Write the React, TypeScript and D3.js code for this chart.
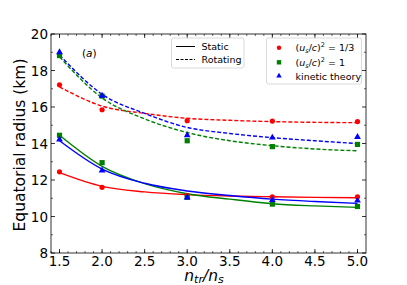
import React from 'react';
import * as d3 from 'd3';

// measured points
const nRatio = [1.5, 2.0, 3.0, 4.0, 5.0];
const staticSoft = [12.45, 11.6, 11.15, 11.08, 11.08];
const staticStiff = [14.45, 12.95, 11.05, 10.68, 10.55];
const staticKinetic = [14.22, 12.52, 11.04, 10.9, 10.87];
const rotSoft = [17.22, 15.85, 15.25, 15.23, 15.2];
const rotStiff = [18.82, 16.6, 14.15, 13.83, 13.95];
const rotKinetic = [19.0, 16.62, 14.45, 14.32, 14.36];

// fitted curves
const fitN = [1.5, 2.0, 2.5, 3.0, 3.5, 4.0, 4.5, 5.0];
const fitStaticSoft = [12.4, 11.65, 11.35, 11.2, 11.12, 11.08, 11.05, 11.03];
const fitStaticStiff = [14.45, 12.75, 11.8, 11.25, 10.95, 10.7, 10.58, 10.5];
const fitStaticKinetic = [14.15, 12.6, 11.82, 11.4, 11.15, 10.95, 10.82, 10.72];
const fitRotSoft = [17.1, 16.05, 15.65, 15.38, 15.27, 15.2, 15.16, 15.14];
const fitRotStiff = [18.75, 16.5, 15.35, 14.6, 14.15, 13.88, 13.7, 13.6];
const fitRotKinetic = [18.85, 16.7, 15.65, 14.88, 14.55, 14.32, 14.15, 14.0];

const xTicks = [1.5, 2.0, 2.5, 3.0, 3.5, 4.0, 4.5, 5.0];
const yTicks = [8, 10, 12, 14, 16, 18, 20];

const font = 'DejaVu Sans, sans-serif';

export default function App() {
  const ref = React.useRef<SVGSVGElement>(null);

  React.useEffect(() => {
    const svg = d3.select(ref.current);
    svg.selectAll('*').remove();

    const left = 51, right = 366, top = 34, bottom = 253;
    const x = d3.scaleLinear().domain([1.4, 5.1]).range([left, right]);
    const y = d3.scaleLinear().domain([8, 20]).range([bottom, top]);

    const g = svg.append('g');

    // frame
    g.append('rect')
      .attr('x', left).attr('y', top)
      .attr('width', right - left).attr('height', bottom - top)
      .attr('fill', 'none').attr('stroke', '#000').attr('stroke-width', 0.8);

    // ticks (inward, all sides)
    const minorX = d3.range(14, 51).map(v => v / 10);
    minorX.forEach(v => {
      const px = x(v);
      g.append('line').attr('x1', px).attr('x2', px).attr('y1', bottom).attr('y2', bottom - 2)
        .attr('stroke', '#000').attr('stroke-width', 0.6);
      g.append('line').attr('x1', px).attr('x2', px).attr('y1', top).attr('y2', top + 2)
        .attr('stroke', '#000').attr('stroke-width', 0.6);
    });
    xTicks.forEach(v => {
      const px = x(v);
      g.append('line').attr('x1', px).attr('x2', px).attr('y1', bottom).attr('y2', bottom - 4)
        .attr('stroke', '#000').attr('stroke-width', 0.8);
      g.append('line').attr('x1', px).attr('x2', px).attr('y1', top).attr('y2', top + 4)
        .attr('stroke', '#000').attr('stroke-width', 0.8);
      g.append('text').attr('x', px).attr('y', bottom + 12.5)
        .attr('text-anchor', 'middle').attr('font-family', font).attr('font-size', 13.5)
        .text(v.toFixed(1));
    });
    d3.range(9, 20, 2).forEach(v => {
      const py = y(v);
      g.append('line').attr('x1', left).attr('x2', left + 2).attr('y1', py).attr('y2', py)
        .attr('stroke', '#000').attr('stroke-width', 0.6);
      g.append('line').attr('x1', right).attr('x2', right - 2).attr('y1', py).attr('y2', py)
        .attr('stroke', '#000').attr('stroke-width', 0.6);
    });
    yTicks.forEach(v => {
      const py = y(v);
      g.append('line').attr('x1', left).attr('x2', left + 4).attr('y1', py).attr('y2', py)
        .attr('stroke', '#000').attr('stroke-width', 0.8);
      g.append('line').attr('x1', right).attr('x2', right - 4).attr('y1', py).attr('y2', py)
        .attr('stroke', '#000').attr('stroke-width', 0.8);
      g.append('text').attr('x', left - 3).attr('y', py + 5)
        .attr('text-anchor', 'end').attr('font-family', font).attr('font-size', 13.5)
        .text(String(v));
    });

    // axis labels
    g.append('text')
      .attr('transform', `translate(24.5,${(top + bottom) / 2 + 1.5}) rotate(-90)`)
      .attr('text-anchor', 'middle').attr('font-family', font).attr('font-size', 15.5)
      .text('Equatorial radius (km)');
    const xl = g.append('text').attr('x', 204).attr('y', 280.5)
      .attr('text-anchor', 'middle').attr('font-family', font).attr('font-size', 15.5)
      .attr('font-style', 'italic');
    xl.append('tspan').text('n');
    xl.append('tspan').attr('font-size', 11).attr('dy', 2.5).text('tr');
    xl.append('tspan').attr('dy', -2.5).text('/n');
    xl.append('tspan').attr('font-size', 11).attr('dy', 2.5).text('s');

    const pa = g.append('text').attr('x', 82).attr('y', 57).attr('font-family', font).attr('font-size', 10.5);
    pa.append('tspan').text('(');
    pa.append('tspan').attr('font-style', 'italic').text('a');
    pa.append('tspan').text(')');

    const line = d3.line<number>()
      .x((_, i) => x(fitN[i]))
      .y(d => y(d))
      .curve(d3.curveMonotoneX);

    const curves: [number[], string, boolean][] = [
      [fitRotSoft, '#ff0000', true],
      [fitRotStiff, '#008000', true],
      [fitRotKinetic, '#0000ff', true],
      [fitStaticSoft, '#ff0000', false],
      [fitStaticStiff, '#008000', false],
      [fitStaticKinetic, '#0000ff', false],
    ];
    curves.forEach(([vals, col, dashed]) => {
      g.append('path').attr('d', line(vals) as string)
        .attr('fill', 'none').attr('stroke', col).attr('stroke-width', 1.4)
        .attr('stroke-dasharray', dashed ? '4,2' : null);
    });

    const drawMarks = (vals: number[], col: string, shape: string) => {
      vals.forEach((v, i) => {
        const px = x(nRatio[i]), py = y(v);
        if (shape === 'circle') {
          g.append('circle').attr('cx', px).attr('cy', py).attr('r', 2.6).attr('fill', col);
        } else if (shape === 'square') {
          g.append('rect').attr('x', px - 2.6).attr('y', py - 2.6).attr('width', 5.2).attr('height', 5.2).attr('fill', col);
        } else {
          g.append('path').attr('d', d3.symbol(d3.symbolTriangle, 20)() as string)
            .attr('transform', `translate(${px},${py})`).attr('fill', col);
        }
      });
    };
    drawMarks(staticSoft, '#ff0000', 'circle');
    drawMarks(rotSoft, '#ff0000', 'circle');
    drawMarks(staticStiff, '#008000', 'square');
    drawMarks(rotStiff, '#008000', 'square');
    drawMarks(staticKinetic, '#0000ff', 'triangle');
    drawMarks(rotKinetic, '#0000ff', 'triangle');

    // legend: line styles
    g.append('rect').attr('x', 171.5).attr('y', 38).attr('width', 72.5).attr('height', 30)
      .attr('rx', 2).attr('fill', '#fff').attr('fill-opacity', 0.8).attr('stroke', '#d0d0d0').attr('stroke-width', 0.8);
    [['Static', null, 46.5], ['Rotating', '3,1.5', 59.5]].forEach(([lab, dash, yy]) => {
      g.append('line').attr('x1', 176).attr('x2', 195).attr('y1', yy as number).attr('y2', yy as number)
        .attr('stroke', '#000').attr('stroke-width', 1).attr('stroke-dasharray', dash as string | null);
      g.append('text').attr('x', 201.5).attr('y', (yy as number) + 3.5)
        .attr('font-family', font).attr('font-size', 9.5).text(lab as string);
    });

    // legend: models
    g.append('rect').attr('x', 266.5).attr('y', 38).attr('width', 95).attr('height', 46)
      .attr('rx', 2).attr('fill', '#fff').attr('fill-opacity', 0.8).attr('stroke', '#d0d0d0').attr('stroke-width', 0.8);
    const lx = 279, tx = 295.5;
    g.append('circle').attr('cx', lx).attr('cy', 47.7).attr('r', 2.2).attr('fill', '#ff0000');
    g.append('rect').attr('x', lx - 2.2).attr('y', 62.3 - 2.2).attr('width', 4.4).attr('height', 4.4).attr('fill', '#008000');
    g.append('path').attr('d', d3.symbol(d3.symbolTriangle, 13)() as string)
      .attr('transform', `translate(${lx},76)`).attr('fill', '#0000ff');

    const eq = (yy: number, rhs: string) => {
      const t = g.append('text').attr('x', tx).attr('y', yy + 3.5).attr('font-family', font).attr('font-size', 9.5);
      t.append('tspan').text('(');
      t.append('tspan').attr('font-style', 'italic').text('u');
      t.append('tspan').attr('font-style', 'italic').attr('font-size', 6.5).attr('dy', 2).text('s');
      t.append('tspan').attr('dy', -2).text('/');
      t.append('tspan').attr('font-style', 'italic').text('c');
      t.append('tspan').text(')');
      t.append('tspan').attr('font-size', 6.5).attr('dy', -4).text('2');
      t.append('tspan').attr('dy', 4).text(' = ' + rhs);
    };
    eq(47.7, '1/3');
    eq(62.3, '1');
    g.append('text').attr('x', tx).attr('y', 79.5).attr('font-family', font).attr('font-size', 9.5)
      .text('kinetic theory');
  }, []);

  return (
    <svg ref={ref} width={407} height={285}
      style={{ position: 'absolute', left: 0, top: 0, background: '#fff' }} />
  );
}
